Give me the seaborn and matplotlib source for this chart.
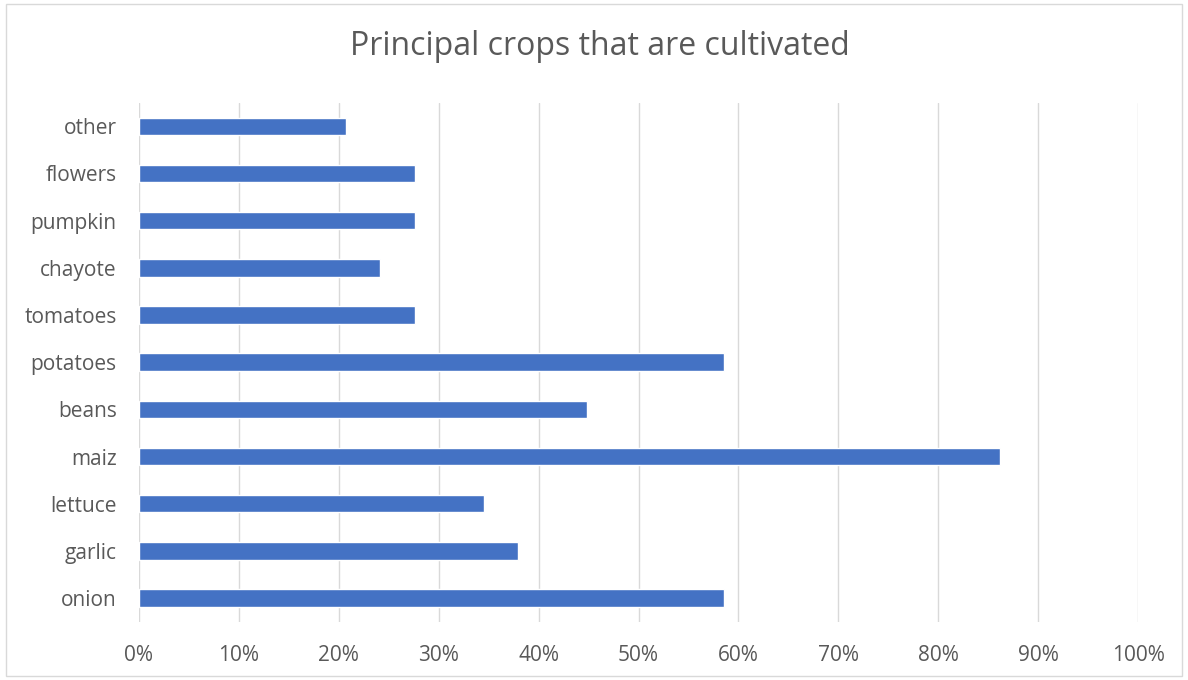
import matplotlib
matplotlib.use("Agg")
import matplotlib.pyplot as plt
import seaborn as sns
import pandas as pd
from matplotlib.patches import Rectangle
from matplotlib.ticker import PercentFormatter, MultipleLocator

categories = ["other", "flowers", "pumpkin", "chayote", "tomatoes", "potatoes",
              "beans", "maiz", "lettuce", "garlic", "onion"]
values = [20.7, 27.6, 27.6, 24.1, 27.6, 58.6, 44.8, 86.2, 34.5, 37.9, 58.6]
title = "Principal crops that are cultivated"

df = pd.DataFrame({"crop": categories, "share": values})

sns.set_theme(style="white")
plt.rcParams["font.family"] = ["Open Sans", "DejaVu Sans"]

fig = plt.figure(figsize=(11.88, 6.8), dpi=100)
ax = fig.add_axes([0.117, 0.0859, 0.841, 0.763])

sns.barplot(data=df, x="share", y="crop", order=categories, color="#4472C4",
            width=0.37, saturation=1, ax=ax, zorder=3)

ax.set_xlim(0, 100)
ax.xaxis.set_major_locator(MultipleLocator(10))
ax.xaxis.set_major_formatter(PercentFormatter(decimals=0))
ax.grid(axis="x", color="#d9d9d9", linewidth=1, zorder=0)
ax.set_axisbelow(True)
for s in ax.spines.values():
    s.set_visible(False)
ax.set_xlabel("")
ax.set_ylabel("")
ax.tick_params(axis="both", length=0, labelsize=15, colors="#595959")
ax.tick_params(axis="y", pad=16)
ax.tick_params(axis="x", pad=17)

fig.text(0.505, 0.931, title, ha="center", va="center", fontsize=23, color="#595959")
fig.patches.append(Rectangle((0.005, 0.006), 0.99, 0.988, transform=fig.transFigure,
                             fill=False, edgecolor="#d9d9d9", linewidth=1))

fig.savefig("out.png", dpi=100, facecolor="white")
